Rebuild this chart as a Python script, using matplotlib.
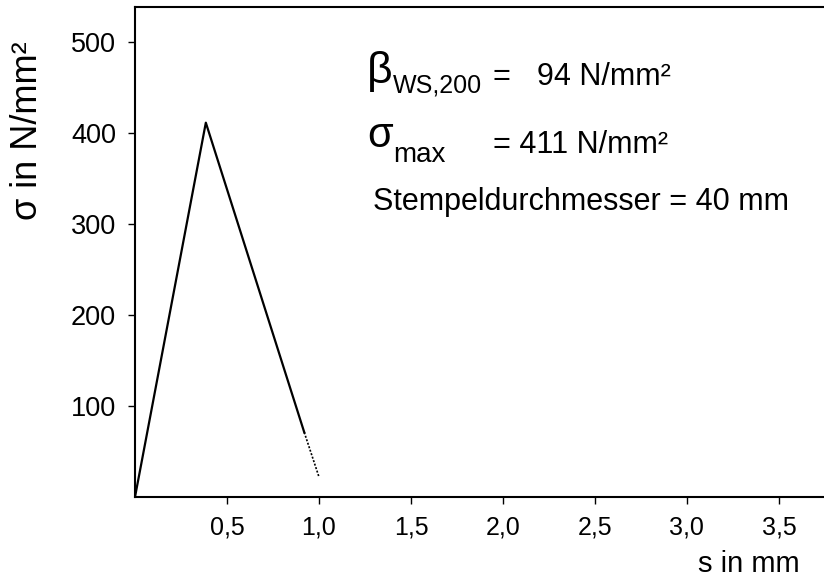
import matplotlib.pyplot as plt

plt.rcParams['font.family'] = ['Liberation Sans', 'DejaVu Sans']

# Weg s in mm und Spannung sigma in N/mm²
s_solid = [0.0, 0.385, 0.92]
sig_solid = [0, 411, 71]
s_tail = [0.92, 1.0]
sig_tail = [71, 22]

x_ticks = [0.5, 1.0, 1.5, 2.0, 2.5, 3.0, 3.5]
x_labels = ["0,5", "1,0", "1,5", "2,0", "2,5", "3,0", "3,5"]
y_ticks = [100, 200, 300, 400, 500]

W, H = 824, 579
fig = plt.figure(figsize=(W / 100, H / 100), dpi=100)
ax = fig.add_axes([135 / W, 1 - 497 / H, 1 - 135 / W, (497 - 7) / H])


def put(x, y, txt, size):
    # Text in Pixelkoordinaten (von oben links), y = Grundlinie
    fig.text(x / W, 1 - y / H, txt, fontsize=size, ha='left', va='baseline')


ax.plot(s_solid, sig_solid, color="black", lw=1.6)
ax.plot(s_tail, sig_tail, color="black", lw=1.2, ls=(0, (1.2, 1)))

ax.set_xlim(0, 3.745)
ax.set_ylim(0, 538)
ax.spines['right'].set_visible(False)
for sp in ['left', 'bottom', 'top']:
    ax.spines[sp].set_linewidth(1.5)

ax.set_xticks(x_ticks)
ax.set_xticklabels(x_labels)
ax.set_yticks(y_ticks)
ax.tick_params(axis='both', direction='out', length=5, width=1.0)
ax.tick_params(axis='x', labelsize=18, pad=8)
ax.tick_params(axis='y', labelsize=19.5, pad=8.5)

fig.text(800 / W, 7 / H, "s in mm", fontsize=21, ha='right', va='baseline')
fig.text(28 / W, 1 - 131 / H, "σ in N/mm²", fontsize=26, rotation=90,
         ha='center', va='center')

# Kennwerte
put(367, 83, "β", 32)
put(393, 93, "WS,200", 18)
put(493, 85, "=", 22)
put(537, 85, "94 N/mm²", 22)
put(367, 147, "σ", 30)
put(393, 162, "max", 20)
put(493, 153, "= 411 N/mm²", 22)
put(373, 210, "Stempeldurchmesser = 40 mm", 22)

fig.savefig("out.png", dpi=100)
